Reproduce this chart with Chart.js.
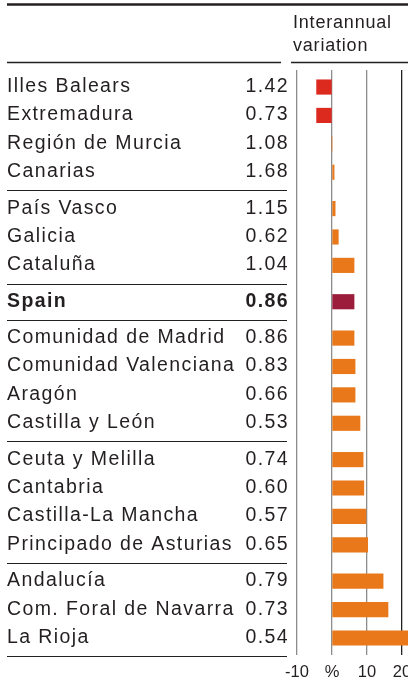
<!DOCTYPE html>
<html>
<head>
<meta charset="utf-8">
<script src="https://cdn.jsdelivr.net/npm/chart.js@4/dist/chart.umd.min.js"></script>
<style>
    html, body { margin: 0; padding: 0; background: #fff; overflow: hidden; }
    canvas { display: block; }
</style>
</head>
<body>
<canvas id="variationChart" width="430" height="681"></canvas>
<script>
// Regions, in the order of the table
const regions = [
    'Illes Balears', 'Extremadura', 'Región de Murcia', 'Canarias',
    'País Vasco', 'Galicia', 'Cataluña',
    'Spain',
    'Comunidad de Madrid', 'Comunidad Valenciana', 'Aragón', 'Castilla y León',
    'Ceuta y Melilla', 'Cantabria', 'Castilla-La Mancha', 'Principado de Asturias',
    'Andalucía', 'Com. Foral de Navarra', 'La Rioja'
];
// Level column
const levels = [1.42, 0.73, 1.08, 1.68, 1.15, 0.62, 1.04, 0.86, 0.86, 0.83, 0.66, 0.53, 0.74, 0.60, 0.57, 0.65, 0.79, 0.73, 0.54];
// Interannual variation, %
const variation = [-4.4, -4.4, 0, 0.6, 0.9, 1.8, 6.3, 6.3, 6.3, 6.6, 6.6, 8.0, 8.9, 9.1, 9.7, 10.2, 14.6, 16.0, 22.0];
// Block each row belongs to (rules are drawn between blocks)
const groups = [0, 0, 0, 0, 1, 1, 1, 2, 3, 3, 3, 3, 4, 4, 4, 4, 5, 5, 5];
const xTicks = [-10, 0, 10, 20];

const TEXT = '#231f20';
const GROUP_GAP = 0.28;
const rowPos = regions.map((r, i) => i + groups[i] * GROUP_GAP);

const barColors = regions.map((r, i) => {
    if (r === 'Spain') return '#9b1d3b';
    return variation[i] < 0 ? '#dc2a1f' : '#e8781a';
});

function hLine(ctx, x1, x2, y, w, color) {
    ctx.beginPath();
    ctx.strokeStyle = color;
    ctx.lineWidth = w;
    ctx.moveTo(x1, y);
    ctx.lineTo(x2, y);
    ctx.stroke();
}

// Table on the left + header
const tablePlugin = {
    id: 'regionTable',
    afterDraw(chart) {
        const ctx = chart.ctx;
        const y = chart.scales.y;
        ctx.save();

        // top rule
        hLine(ctx, 7, 430, 4.5, 2.6, TEXT);

        // header
        ctx.fillStyle = TEXT;
        ctx.font = '18px "Liberation Sans", Arial, sans-serif';
        ctx.letterSpacing = '0.8px';
        ctx.textAlign = 'left';
        ctx.textBaseline = 'alphabetic';
        ctx.fillText('Interannual', 293, 28);
        ctx.fillText('variation', 293, 51);

        const headY = Math.round(y.getPixelForValue(rowPos[0] - 0.88)) + 0.5;
        hLine(ctx, 7, 281, headY, 1.3, TEXT);
        hLine(ctx, 291, 430, headY, 1.3, TEXT);

        // rows
        ctx.letterSpacing = '1.4px';
        regions.forEach((name, i) => {
            const py = y.getPixelForValue(rowPos[i]) + 5;
            const bold = name === 'Spain' ? 'bold ' : '';
            ctx.font = bold + '19.5px "Liberation Sans", Arial, sans-serif';
            ctx.textAlign = 'left';
            ctx.fillText(name, 7, py);
            ctx.textAlign = 'right';
            ctx.fillText(levels[i].toFixed(2), 289, py);
        });

        // rules between blocks and at the bottom
        for (let i = 0; i < regions.length; i++) {
            const last = i === regions.length - 1;
            if (last || groups[i + 1] !== groups[i]) {
                const v = last ? rowPos[i] + 0.5 + GROUP_GAP / 2 : (rowPos[i] + rowPos[i + 1]) / 2;
                const ly = Math.round(y.getPixelForValue(v)) + 0.5;
                hLine(ctx, 7, 287, ly, 1.2, TEXT);
            }
        }
        ctx.restore();
    }
};

const ctx = document.getElementById('variationChart').getContext('2d');
new Chart(ctx, {
    type: 'bar',
    data: {
        datasets: [{
            data: regions.map((r, i) => ({ x: variation[i], y: rowPos[i] })),
            backgroundColor: barColors,
            borderWidth: 0,
            barThickness: 14.5
        }]
    },
    options: {
        indexAxis: 'y',
        responsive: false,
        animation: false,
        layout: {
            padding: { left: 297, right: 21, top: 70, bottom: 0 }
        },
        plugins: {
            legend: { display: false },
            tooltip: { enabled: false }
        },
        scales: {
            x: {
                type: 'linear',
                min: -10,
                max: 22,
                afterBuildTicks: s => { s.ticks = xTicks.map(v => ({ value: v })); },
                afterFit: s => { s.height = 26; },
                grid: {
                    drawTicks: false,
                    lineWidth: 1.3,
                    color: c => (c.tick && c.tick.value === 20) ? '#222' : '#8c8c8c'
                },
                border: { display: false },
                ticks: {
                    padding: 8,
                    color: TEXT,
                    maxRotation: 0,
                    font: { family: '"Liberation Sans", Arial, sans-serif', size: 16.5 },
                    callback: v => v === 0 ? '%' : v
                }
            },
            y: {
                type: 'linear',
                display: false,
                offset: false,
                reverse: true,
                min: -0.6,
                max: 20.0
            }
        }
    },
    plugins: [tablePlugin]
});
</script>
</body>
</html>
